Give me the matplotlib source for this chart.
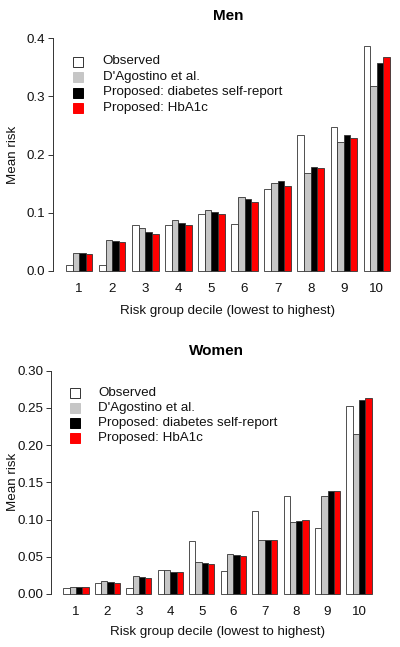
import matplotlib
matplotlib.use("Agg")
import matplotlib.pyplot as plt
from matplotlib.patches import Rectangle
import numpy as np

plt.rcParams['font.family'] = ['Liberation Sans', 'DejaVu Sans']

deciles = ["1", "2", "3", "4", "5", "6", "7", "8", "9", "10"]
series_names = ["Observed", "D'Agostino et al.", "Proposed: diabetes self-report", "Proposed: HbA1c"]
series_colors = ["white", "#C6C6C6", "black", "#FF0000"]

men_observed = [0.009, 0.009, 0.079, 0.078, 0.098, 0.080, 0.141, 0.233, 0.247, 0.386]
men_dagostino = [0.031, 0.053, 0.073, 0.087, 0.105, 0.126, 0.151, 0.169, 0.221, 0.318]
men_selfreport = [0.031, 0.051, 0.067, 0.082, 0.101, 0.124, 0.154, 0.178, 0.234, 0.358]
men_hba1c = [0.029, 0.049, 0.064, 0.078, 0.098, 0.119, 0.145, 0.177, 0.229, 0.368]
men_yticks = [0.0, 0.1, 0.2, 0.3, 0.4]
men_yticklabels = ["0.0", "0.1", "0.2", "0.3", "0.4"]

women_observed = [0.008, 0.015, 0.008, 0.032, 0.0707, 0.0315, 0.111, 0.132, 0.0887, 0.252]
women_dagostino = [0.0095, 0.0176, 0.024, 0.0324, 0.043, 0.054, 0.073, 0.097, 0.132, 0.215]
women_selfreport = [0.0095, 0.016, 0.0225, 0.0297, 0.041, 0.052, 0.0725, 0.098, 0.139, 0.261]
women_hba1c = [0.009, 0.015, 0.0216, 0.029, 0.040, 0.051, 0.0725, 0.0995, 0.139, 0.264]
women_yticks = [0.0, 0.05, 0.10, 0.15, 0.20, 0.25, 0.30]
women_yticklabels = ["0.00", "0.05", "0.10", "0.15", "0.20", "0.25", "0.30"]

W, H = 400, 647
fig = plt.figure(figsize=(W / 100, H / 100), dpi=100)

FS = 9.6
EDGE = "#333333"


def px_axes(left, right, top, bottom):
    return fig.add_axes([left / W, (H - bottom) / H, (right - left) / W, (bottom - top) / H])


def panel(ax, series, yticks, yticklabels, ymax):
    ng = len(deciles)
    for i, vals in enumerate(series):
        x = [1 + 5 * g + i for g in range(ng)]
        ax.bar(x, vals, width=1.0, align='edge', color=series_colors[i],
               edgecolor=EDGE, linewidth=0.6)
    ax.set_xlim(1 - 1.96, 50 + 1.96)
    ax.set_ylim(-0.04 * ymax, ymax * 1.04)
    ax.set_xticks([1 + 5 * g + 2 for g in range(ng)])
    ax.set_xticklabels(deciles, fontsize=FS, color="#111111")
    ax.tick_params(axis='x', length=0, pad=2.5)
    ax.set_yticks(yticks)
    ax.set_yticklabels(yticklabels, fontsize=FS, color="#111111")
    ax.tick_params(axis='y', length=3.6, width=0.7, color=EDGE, pad=2)
    for s in ['top', 'right', 'bottom']:
        ax.spines[s].set_visible(False)
    ax.spines['left'].set_bounds(0, ymax)
    ax.spines['left'].set_color(EDGE)
    ax.spines['left'].set_linewidth(0.7)
    ax.patch.set_alpha(0)


def legend(x_sq, x_txt, ys):
    for name, col, y in zip(series_names, series_colors, ys):
        fig.patches.append(Rectangle(((x_sq - 5) / W, (H - y - 5) / H), 10 / W, 10 / H,
                                     transform=fig.transFigure, facecolor=col,
                                     edgecolor=EDGE if col == "white" else col, linewidth=0.7))
        fig.text(x_txt / W, (H - y) / H, name, fontsize=FS, ha='left', va='center',
                 color="#111111")


# Men panel
ax1 = px_axes(53, 403, 29, 280)
panel(ax1, [men_observed, men_dagostino, men_selfreport, men_hba1c],
      men_yticks, men_yticklabels, 0.4)
fig.text(228 / W, (H - 16) / H, "Men", fontsize=11, fontweight='bold', ha='center', va='center')
fig.text(13.3 / W, (H - 155) / H, "Mean risk", fontsize=FS, rotation=90, ha='center', va='center',
         color="#111111")
fig.text(228 / W, (H - 311) / H, "Risk group decile (lowest to highest)", fontsize=FS,
         ha='center', va='center', color="#111111")
legend(78, 102.7, [61.5, 77, 92.5, 108.3])

# Women panel
ax2 = px_axes(51, 384, 361.8, 602.9)
panel(ax2, [women_observed, women_dagostino, women_selfreport, women_hba1c],
      women_yticks, women_yticklabels, 0.30)
fig.text(216.5 / W, (H - 350.7) / H, "Women", fontsize=11, fontweight='bold', ha='center',
         va='center')
fig.text(13.3 / W, (H - 482) / H, "Mean risk", fontsize=FS, rotation=90, ha='center', va='center',
         color="#111111")
fig.text(218 / W, (H - 631.7) / H, "Risk group decile (lowest to highest)", fontsize=FS,
         ha='center', va='center', color="#111111")
legend(74.5, 98.3, [392.7, 408, 423.3, 438.3])

fig.savefig("out.png", dpi=100)
